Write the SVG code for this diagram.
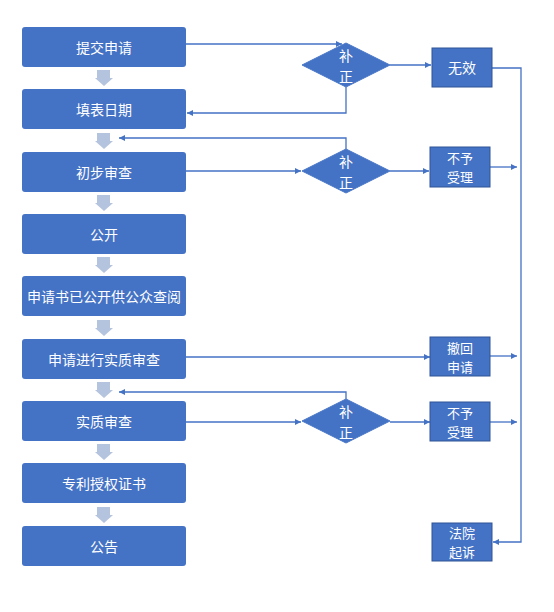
<svg xmlns="http://www.w3.org/2000/svg" width="554" height="612" viewBox="0 0 554 612">
<defs>
<style>
.box{fill:#4472C4;}
.rbox{fill:#4472C4;stroke:#2F5597;stroke-width:1;}
.dia{fill:#4472C4;stroke:#4A78C8;stroke-width:1;}
.t{font-family:"Noto Sans CJK SC","Noto Sans",sans-serif;font-size:14px;fill:#FFFFFF;text-anchor:middle;dominant-baseline:central;}
.s{font-size:13px;}
.ln2{fill:none;stroke:#4472C4;stroke-width:1.3;marker-end:url(#ah);}
.blk{fill:#B4C3DE;}
</style>
<marker id="ah" viewBox="0 0 10 10" refX="10" refY="5" markerWidth="6" markerHeight="6" markerUnits="userSpaceOnUse" orient="auto">
<path d="M0,0 L10,5 L0,10 z" fill="#4472C4"/>
</marker>
<path id="barrow" d="M-7,0 H6 V8 H9 L0,16 L-9,8 H-7 Z"/>
</defs>
<rect width="554" height="612" fill="#FFFFFF"/>

<g id="connectors">
<path class="ln2" d="M186,44 H342"/>
<path class="ln2" d="M390,65 H431"/>
<path class="ln2" d="M346,87 V113 H187"/>
<path class="ln2" d="M346,149 V138 H119"/>
<path class="ln2" d="M186,171 H301"/>
<path class="ln2" d="M390,171 H429"/>
<path class="ln2" d="M490,167 H517"/>
<path class="ln2" d="M492,68 H521 V542 H493"/>
<path class="ln2" d="M186,357 H430"/>
<path class="ln2" d="M490,356 H517"/>
<path class="ln2" d="M346,399 V392 H119"/>
<path class="ln2" d="M186,422 H301"/>
<path class="ln2" d="M390,422 H430"/>
<path class="ln2" d="M490,422 H517"/>
</g>

<g id="block-arrows">
<use href="#barrow" class="blk" x="104" y="70"/>
<use href="#barrow" class="blk" x="104" y="133"/>
<use href="#barrow" class="blk" x="104" y="195"/>
<use href="#barrow" class="blk" x="104" y="257"/>
<use href="#barrow" class="blk" x="104" y="320"/>
<use href="#barrow" class="blk" x="104" y="382"/>
<use href="#barrow" class="blk" x="104" y="444"/>
<use href="#barrow" class="blk" x="104" y="507"/>
</g>

<g id="n1"><rect class="box" x="22" y="27" width="164" height="40" rx="3"/><text class="t" x="104" y="47">提交申请</text></g>
<g id="n2"><rect class="box" x="22" y="89" width="164" height="40" rx="3"/><text class="t" x="104" y="109">填表日期</text></g>
<g id="n3"><rect class="box" x="22" y="152" width="164" height="40" rx="3"/><text class="t" x="104" y="172">初步审查</text></g>
<g id="n4"><rect class="box" x="22" y="214" width="164" height="40" rx="3"/><text class="t" x="104" y="234">公开</text></g>
<g id="n5"><rect class="box" x="22" y="276" width="164" height="40" rx="3"/><text class="t" x="104" y="296">申请书已公开供公众查阅</text></g>
<g id="n6"><rect class="box" x="22" y="339" width="164" height="40" rx="3"/><text class="t" x="104" y="359">申请进行实质审查</text></g>
<g id="n7"><rect class="box" x="22" y="401" width="164" height="40" rx="3"/><text class="t" x="104" y="421">实质审查</text></g>
<g id="n8"><rect class="box" x="22" y="463" width="164" height="40" rx="3"/><text class="t" x="104" y="483">专利授权证书</text></g>
<g id="n9"><rect class="box" x="22" y="526" width="164" height="40" rx="3"/><text class="t" x="104" y="546">公告</text></g>

<g id="d1"><polygon class="dia" points="346,43 390,65 346,87 302,65"/><text class="t" x="346" y="55">补</text><text class="t" x="346" y="76">正</text></g>
<g id="d2"><polygon class="dia" points="346,149 390,171 346,193 302,171"/><text class="t" x="346" y="161">补</text><text class="t" x="346" y="182">正</text></g>
<g id="d3"><polygon class="dia" points="346,399 390,421 346,443 302,421"/><text class="t" x="346" y="411">补</text><text class="t" x="346" y="432">正</text></g>

<g id="r1"><rect class="rbox" x="432" y="48" width="60" height="39"/><text class="t" x="462" y="67">无效</text></g>
<g id="r2"><rect class="rbox" x="430" y="147" width="60" height="40"/><text class="t s" x="460" y="157">不予</text><text class="t s" x="460" y="176">受理</text></g>
<g id="r3"><rect class="rbox" x="430" y="337" width="60" height="39"/><text class="t s" x="460" y="347">撤回</text><text class="t s" x="460" y="366">申请</text></g>
<g id="r4"><rect class="rbox" x="430" y="402" width="60" height="39"/><text class="t s" x="460" y="412">不予</text><text class="t s" x="460" y="431">受理</text></g>
<g id="r5"><rect class="rbox" x="432" y="523" width="60" height="38"/><text class="t s" x="462" y="532">法院</text><text class="t s" x="462" y="551">起诉</text></g>
</svg>
